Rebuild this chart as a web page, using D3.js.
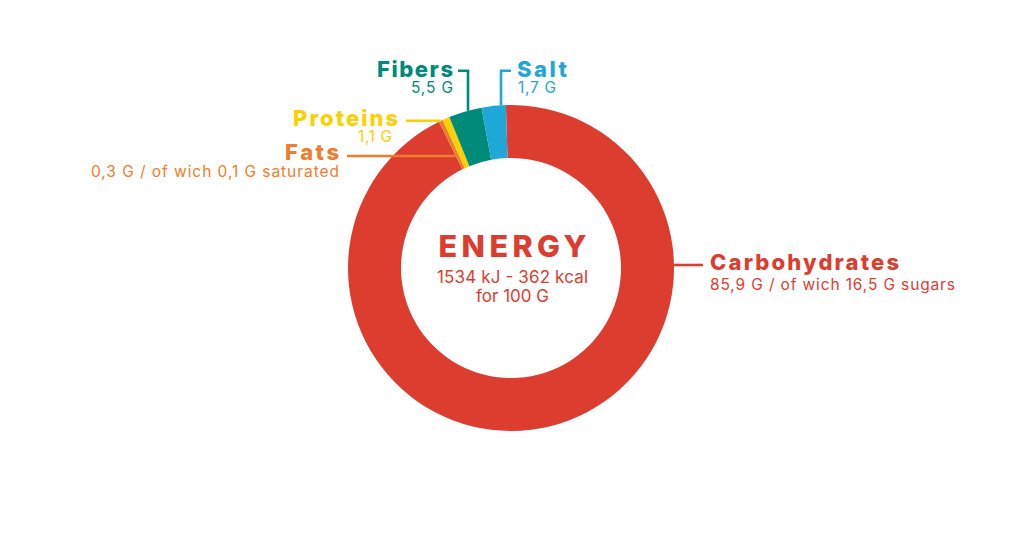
<!DOCTYPE html>
<html>
<head>
<meta charset="utf-8">
<title>Energy</title>
<script src="https://d3js.org/d3.v7.min.js"></script>
<style>
  body { margin: 0; background: #fff; }
  text { font-family: Inter, "Open Sans", sans-serif; }
</style>
</head>
<body>
<svg width="1024" height="535"></svg>
<script>
// nutrients, clockwise from the top
var categories = ["Carbohydrates", "Fats", "Proteins", "Fibers", "Salt"];
var amounts = ["85,9 G / of wich 16,5 G sugars", "0,3 G / of wich 0,1 G saturated", "1,1 G", "5,5 G", "1,7 G"];
// share of the ring each slice takes in the picture (%)
var ringShare = [93.2, 0.39, 0.72, 3.28, 2.39];
var colors = ["#dc3d2f", "#ef7d2c", "#fbd100", "#008a79", "#1fa7d8"];

var energyTitle = "ENERGY";
var energyLines = ["1534 kJ - 362 kcal", "for 100 G"];

var cx = 511, cy = 268, R = 163, r = 110;
var startDeg = -1.8;

var svg = d3.select("svg");
var g = svg.append("g").attr("transform", "translate(" + cx + "," + cy + ")");

var pie = d3.pie()
  .sort(null)
  .value(function(d) { return d; })
  .startAngle(startDeg * Math.PI / 180)
  .endAngle(startDeg * Math.PI / 180 + 2 * Math.PI);

var arc = d3.arc().innerRadius(r).outerRadius(R);

var arcs = pie(ringShare);

g.selectAll("path.slice")
  .data(arcs)
  .enter()
  .append("path")
  .attr("class", "slice")
  .attr("d", arc)
  .attr("fill", function(d, i) { return colors[i]; });

// point on a circle of radius rad, at a given y (left/right side) or x (top side)
function xOnCircle(y, rad, side) { return side * Math.sqrt(rad * rad - y * y); }
function yOnCircle(x, rad) { return -Math.sqrt(rad * rad - x * x); }

// leader lines (relative to the centre)
var leaders = [
  [[xOnCircle(-3, R, 1), -3], [192, -3]],
  [[-164, -112], [xOnCircle(-112, 125, -1), -112]],
  [[-105, -147.3], [xOnCircle(-147.3, R, -1), -147.3]],
  [[-53, -197.3], [-43, -197.3], [-43, yOnCircle(-43, R)]],
  [[0, -197.3], [-10, -197.3], [-10, yOnCircle(-10, R)]]
];

g.selectAll("path.leader")
  .data(leaders)
  .enter()
  .append("path")
  .attr("class", "leader")
  .attr("d", d3.line())
  .attr("fill", "none")
  .attr("stroke", function(d, i) { return colors[i]; })
  .attr("stroke-width", 2.6);

// label layout: x, title baseline, amount baseline, anchor, amount x shift, title width, amount width
var labelPos = [
  [199, 2, 21.5, "start", 0, 189, 245],
  [-172, -108, -91.5, "end", 0, 54, 248],
  [-113, -142, -126.5, "end", -6, 105, 34],
  [-58, -191, -175, "end", 0, 76, 42],
  [6, -191, -175, "start", 1, 50, 38]
];

var labels = g.selectAll("g.label")
  .data(categories)
  .enter()
  .append("g")
  .attr("class", "label")
  .attr("fill", function(d, i) { return colors[i]; })
  .attr("text-anchor", function(d, i) { return labelPos[i][3]; });

labels.append("text")
  .attr("x", function(d, i) { return labelPos[i][0]; })
  .attr("y", function(d, i) { return labelPos[i][1]; })
  .attr("font-size", 22)
  .attr("font-weight", 800)
  .attr("textLength", function(d, i) { return labelPos[i][5]; })
  .attr("lengthAdjust", "spacing")
  .text(function(d) { return d; });

labels.append("text")
  .attr("x", function(d, i) { return labelPos[i][0] + labelPos[i][4]; })
  .attr("y", function(d, i) { return labelPos[i][2]; })
  .attr("font-size", 15.5)
  .attr("textLength", function(d, i) { return labelPos[i][6]; })
  .attr("lengthAdjust", "spacing")
  .text(function(d, i) { return amounts[i]; });

// centre text
g.append("text")
  .attr("x", 1.5).attr("y", -11)
  .attr("text-anchor", "middle")
  .attr("fill", colors[0])
  .attr("font-size", 30.5)
  .attr("font-weight", 800)
  .attr("textLength", 148)
  .attr("lengthAdjust", "spacing")
  .text(energyTitle);

var subWidths = [151, 73];
g.selectAll("text.sub")
  .data(energyLines)
  .enter()
  .append("text")
  .attr("class", "sub")
  .attr("x", 1.5)
  .attr("y", function(d, i) { return 14.5 + i * 19; })
  .attr("text-anchor", "middle")
  .attr("fill", colors[0])
  .attr("font-size", 17)
  .attr("textLength", function(d, i) { return subWidths[i]; })
  .attr("lengthAdjust", "spacing")
  .text(function(d) { return d; });
</script>
</body>
</html>
